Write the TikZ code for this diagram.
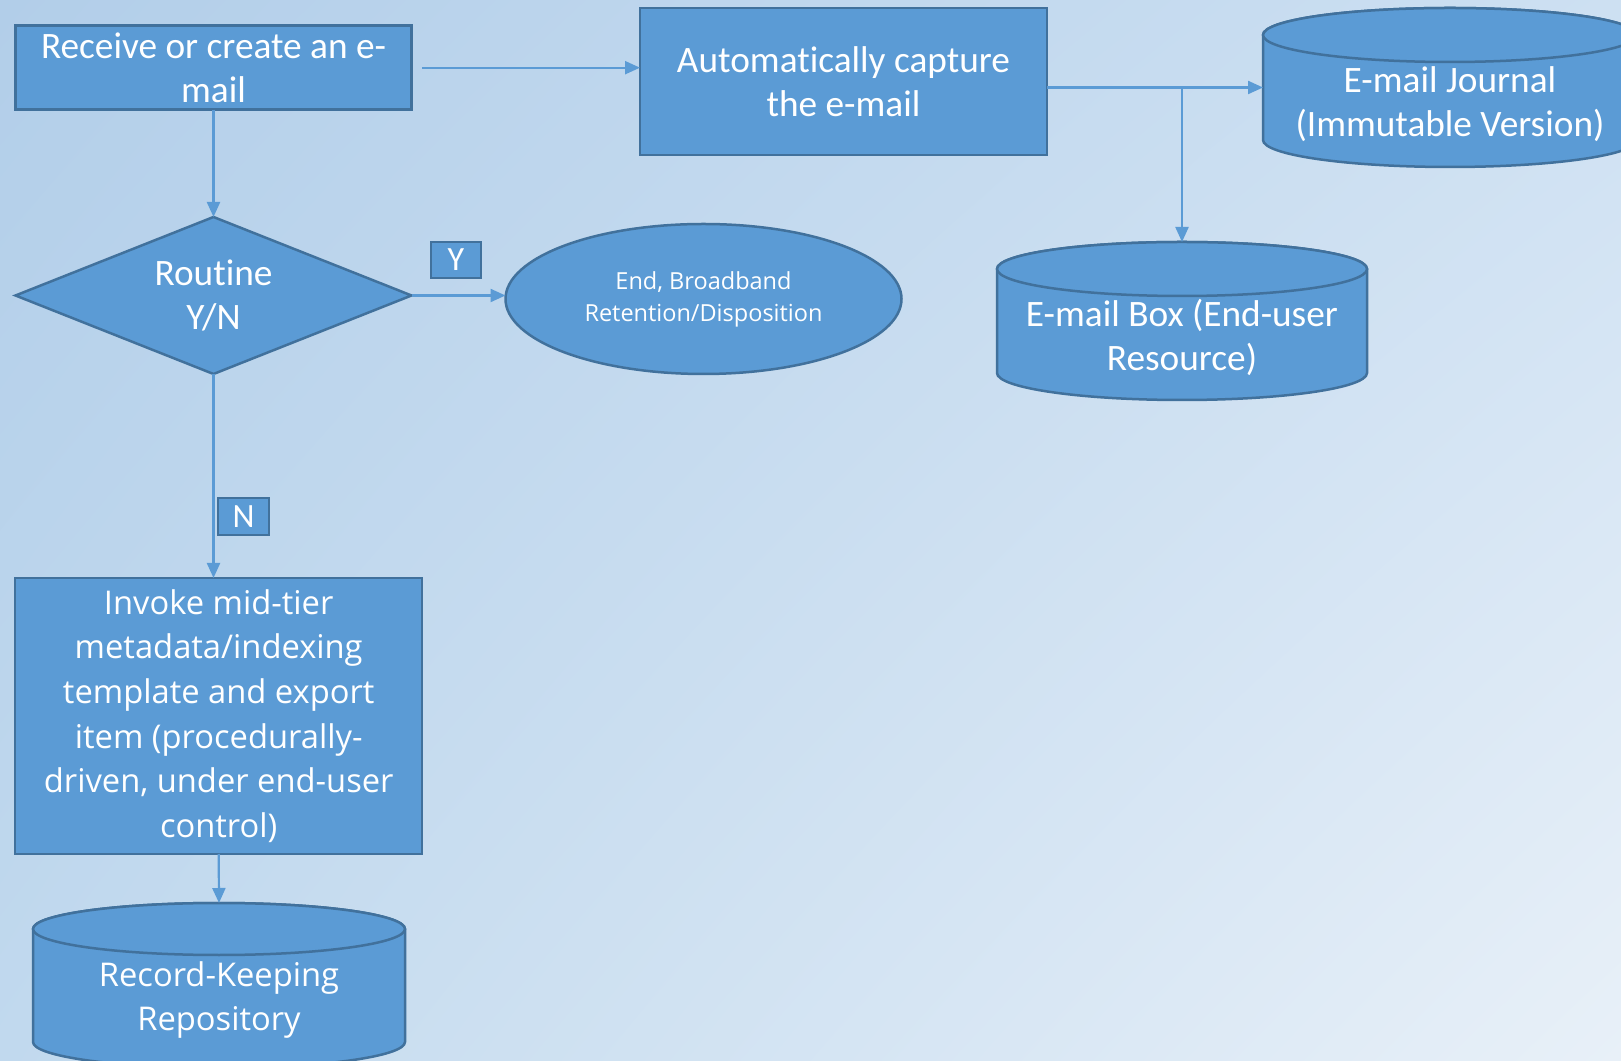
\documentclass[tikz,border=0pt]{standalone}
\usepackage{fontspec}
\setmainfont[Ligatures=NoCommon]{Carlito}
\newfontfamily\osans{Open Sans}
\usetikzlibrary{shapes.geometric,arrows.meta,shadings}
\pgfdeclarelayer{bgl}
\pgfdeclarelayer{cyl}
\pgfsetlayers{bgl,cyl,main}

\definecolor{shfill}{HTML}{5B9BD5}
\definecolor{shline}{HTML}{41719C}
\definecolor{arr}{HTML}{5B9BD5}
\definecolor{bgUL}{RGB}{178,206,233}
\definecolor{bgUR}{RGB}{205,224,242}
\definecolor{bgLL}{RGB}{193,217,238}
\definecolor{bgLR}{RGB}{232,240,248}

\tikzset{
  box/.style={draw=shline, fill=shfill, line width=2.5pt, inner sep=0pt, outer sep=0pt, text=white, align=center},
  cal/.style={font=\fontsize{37.3}{44}\selectfont},
  os/.style={font=\osans\fontsize{32.7}{44.7}\selectfont},
  lab/.style={font=\fontsize{34}{40}\selectfont},
  conn/.style={draw=arr, line width=2.2pt, -{Triangle[length=15pt,width=13pt]}},
  anchorbox/.style={inner sep=0pt, outer sep=0pt},
  cyltext/.style={text=white, align=center, inner sep=0pt},
  cylshape/.style={fill=shfill, draw=shline, line width=2.5pt}
}

% name, cx, ytop, ybot, rx, ry
\newcommand{\mkcyl}[6]{%
  \node[anchorbox, minimum width={2*#5}, minimum height={#3-#4}] (#1) at ({#2},{(#3+#4)/2}) {};
  \begin{pgfonlayer}{cyl}
    \filldraw[cylshape] ({#2-#5},{#3-#6}) -- ({#2-#5},{#4+#6})
      arc[start angle=180,end angle=360,x radius=#5,y radius=#6]
      -- ({#2+#5},{#3-#6})
      arc[start angle=0,end angle=180,x radius=#5,y radius=#6] -- cycle;
    \draw[cylshape] ({#2},{#3-#6}) ellipse[x radius=#5,y radius=#6];
  \end{pgfonlayer}
}

\begin{document}
\begin{tikzpicture}[x=1pt,y=1pt]
\useasboundingbox (0,0) rectangle (1621,1060);
\begin{pgfonlayer}{bgl}
  \shade[upper left=bgUL, upper right=bgUR, lower left=bgLL, lower right=bgLR] (0,0) rectangle (1621,1060);
\end{pgfonlayer}

% process boxes
\node[box, cal, minimum width=396, minimum height=84] (rcv) at (213.5,992.3) {Receive or create an e-\\mail};
\node[box, cal, minimum width=407, minimum height=147] (cap) at (843.5,978.3) {Automatically capture\\the e-mail};
\node[box, cal, diamond, aspect=2.52, minimum width=396, minimum height=157] (dia) at (213.5,764.5) {Routine\\Y/N};
\node[box, ellipse, font=\osans\fontsize{23.5}{32}\selectfont, minimum width=396, minimum height=150] (end) at (703.5,761) {End, Broadband\\Retention/Disposition};
\node[box, os, minimum width=407, minimum height=276] (inv) at (218.7,344) {Invoke mid-tier\\metadata/indexing\\template and export\\item (procedurally-\\driven, under end-user\\control)};

% labels
\node[box, lab, minimum width=50, minimum height=36] (ylab) at (456,800) {Y};
\node[box, lab, minimum width=51, minimum height=37] (nlab) at (243.5,543.5) {N};

% cylinders
\mkcyl{jour}{1450}{1052}{893}{187}{27}
\node[cyltext, cal] (jourt) at (1450,956) {E-mail Journal\\(Immutable Version)};
\mkcyl{ebox}{1182}{818}{660}{185}{27}
\node[cyltext, cal] (eboxt) at (1182,723) {E-mail Box (End-user\\Resource)};
\mkcyl{rec}{219}{157}{-8}{186}{26}
\node[cyltext, os] (rect) at (219,60) {Record-Keeping\\Repository};

% connectors
\draw[conn] ([xshift=10.5pt]rcv.east) -- (rcv.east -| cap.west);
\draw[conn] (rcv.south) -- (dia.north);
\draw[conn] (jour.west -| cap.east) -- (jour.west);
\coordinate (br) at (ebox.north |- jour.west);
\draw[conn] (br) -- (ebox.north);
\draw[conn] (dia.east) -- (dia.east -| end.west);
\draw[conn] (dia.south) -- (dia.south |- inv.north);
\draw[conn] (inv.south) -- (rec.north);
\end{tikzpicture}
\end{document}
